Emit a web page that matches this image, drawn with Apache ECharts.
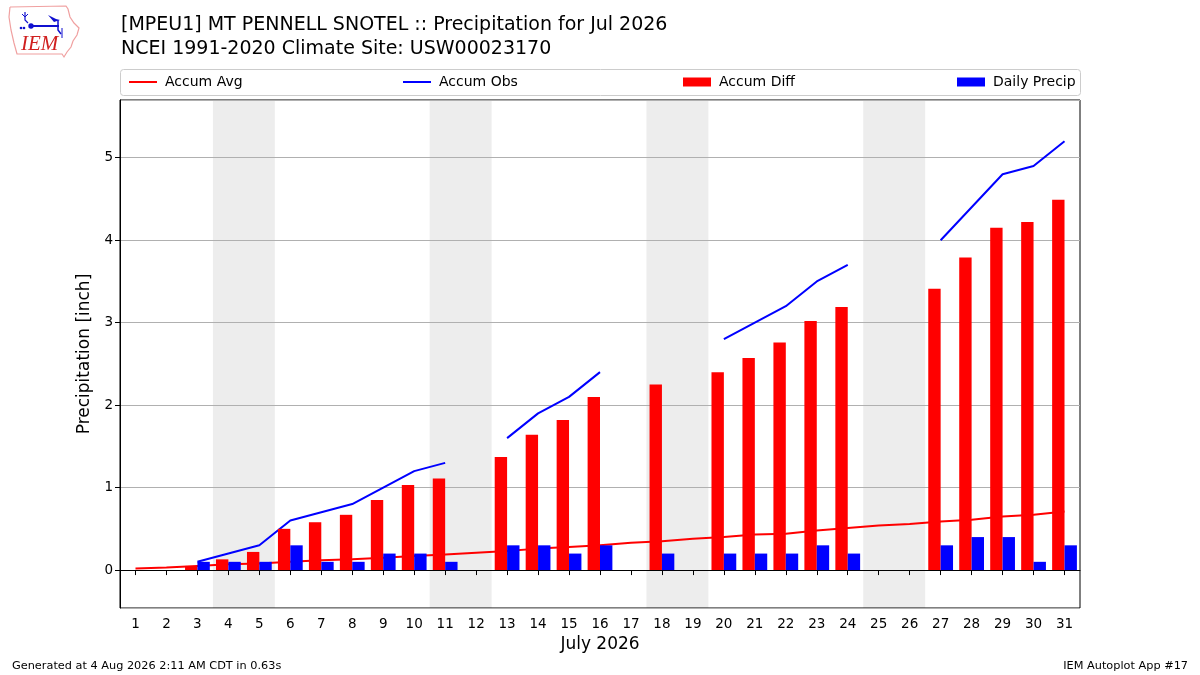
<!DOCTYPE html>
<html>
<head>
<meta charset="utf-8">
<script src="https://cdn.jsdelivr.net/npm/echarts@6/dist/echarts.min.js"></script>
<style>
html,body{margin:0;padding:0;background:#fff;}
#chart{width:1200px;height:675px;}
</style>
</head>
<body>
<div id="chart"></div>
<script>
// ---- data ----
const days = ['1','2','3','4','5','6','7','8','9','10','11','12','13','14','15','16','17','18','19','20','21','22','23','24','25','26','27','28','29','30','31'];
const accumAvg = [0.02,0.03,0.05,0.07,0.08,0.10,0.12,0.13,0.15,0.17,0.19,0.21,0.23,0.26,0.28,0.30,0.33,0.35,0.38,0.40,0.43,0.44,0.48,0.51,0.54,0.56,0.59,0.61,0.65,0.67,0.71];
const accumObs = [null,null,0.1,0.2,0.3,0.6,0.7,0.8,1.0,1.2,1.3,null,1.6,1.9,2.1,2.4,null,2.6,null,2.8,3.0,3.2,3.5,3.7,null,null,4.0,4.4,4.8,4.9,5.2];
const accumDiff = [null,null,0.05,0.13,0.22,0.50,0.58,0.67,0.85,1.03,1.11,null,1.37,1.64,1.82,2.10,null,2.25,null,2.40,2.57,2.76,3.02,3.19,null,null,3.41,3.79,4.15,4.22,4.49];
const dailyPrecip = [null,null,0.1,0.1,0.1,0.3,0.1,0.1,0.2,0.2,0.1,null,0.3,0.3,0.2,0.3,null,0.2,null,0.2,0.2,0.2,0.3,0.2,null,null,0.3,0.4,0.4,0.1,0.3];
const weekendStarts = [4, 11, 18, 25];
const titleLines = ['[MPEU1] MT PENNELL SNOTEL :: Precipitation for Jul 2026', 'NCEI 1991-2020 Climate Site: USW00023170'];
const footerLeft = 'Generated at 4 Aug 2026 2:11 AM CDT in 0.63s';
const footerRight = 'IEM Autoplot App #17';

const FONT = 'DejaVu Sans';
const chart = echarts.init(document.getElementById('chart'), null, {renderer: 'canvas'});

const legendCommon = {
  top: 70, icon: 'rect', itemWidth: 28,
  textStyle: {fontFamily: FONT, fontSize: 14, color: '#000', padding: [0,0,0,3]}
};

const option = {
  backgroundColor: '#fff',
  animation: false,
  textStyle: {fontFamily: FONT},
  title: [
    {text: titleLines.join('\n'), left: 116, top: 8,
     textStyle: {fontFamily: FONT, fontSize: 19, fontWeight: 'normal', color: '#000', lineHeight: 24}},
    {text: footerLeft, left: 7, top: 656,
     textStyle: {fontFamily: FONT, fontSize: 11.3, fontWeight: 'normal', color: '#000'}},
    {text: footerRight, right: 7, top: 656,
     textStyle: {fontFamily: FONT, fontSize: 11.3, fontWeight: 'normal', color: '#000'}}
  ],
  legend: [
    Object.assign({data: ['Accum Avg'], left: 124, itemHeight: 2}, legendCommon),
    Object.assign({data: ['Accum Obs'], left: 398, itemHeight: 2}, legendCommon),
    Object.assign({data: ['Accum Diff'], left: 678, itemHeight: 9}, legendCommon),
    Object.assign({data: ['Daily Precip'], left: 952, itemHeight: 9}, legendCommon)
  ],
  graphic: [
    {type: 'rect', left: 120, top: 69, z: 1, shape: {width: 960, height: 26, r: 3},
     style: {fill: '#fff', stroke: '#cccccc', lineWidth: 1}},
    // IEM logo (approximation)
    {type: 'polyline', z: 1, shape: {points: [[10,7],[66,6],[68,9],[70,17],[74,23],[79,28],[77,35],[73,41],[71,47],[67,52],[64,57],[62,54],[17,54],[14,43],[11,30],[9,17],[10,7]]},
     style: {stroke: '#f0a0a0', lineWidth: 1.2, fill: null}},
    {type: 'polyline', z: 1, shape: {points: [[31,26],[59,26]]}, style: {stroke: '#1010d0', lineWidth: 2}},
    {type: 'circle', z: 1, shape: {cx: 31, cy: 26, r: 2.7}, style: {fill: '#1010d0'}},
    {type: 'polyline', z: 1, shape: {points: [[25,12],[25,20],[28,23]]}, style: {stroke: '#1010d0', lineWidth: 1.2}},
    {type: 'polyline', z: 1, shape: {points: [[22,14],[25,17],[28,14]]}, style: {stroke: '#1010d0', lineWidth: 1}},
    {type: 'polygon', z: 1, shape: {points: [[48,15],[56,19],[60,20],[54,22]]}, style: {fill: '#1010d0'}},
    {type: 'polyline', z: 1, shape: {points: [[58,20],[58,30],[61,34]]}, style: {stroke: '#1010d0', lineWidth: 1.5}},
    {type: 'polyline', z: 1, shape: {points: [[62,28],[62,38]]}, style: {stroke: '#1010d0', lineWidth: 1}},
    {type: 'circle', z: 1, shape: {cx: 24, cy: 28, r: 1.3}, style: {fill: '#1010d0'}},
    {type: 'circle', z: 1, shape: {cx: 21, cy: 28, r: 1.3}, style: {fill: '#1010d0'}},
    {type: 'text', z: 1, left: 21, top: 34,
     style: {text: 'IEM', fill: '#d02020', font: 'italic 21px "Liberation Serif", "DejaVu Serif", serif'}}
  ],
  grid: {left: 120, right: 120, top: 100, bottom: 67, show: true, borderColor: '#000', borderWidth: 1, backgroundColor: 'transparent'},
  xAxis: [
    {type: 'category', data: days, boundaryGap: true, z: 1,
     axisLine: {show: true, lineStyle: {color: '#000', width: 1}},
     axisTick: {show: true, alignWithLabel: true, length: 5, lineStyle: {color: '#000'}},
     axisLabel: {fontFamily: FONT, fontSize: 13.5, color: '#000', margin: 9, interval: 0},
     name: 'July 2026', nameLocation: 'middle', nameGap: 28,
     nameTextStyle: {fontFamily: FONT, fontSize: 17, color: '#000'}},
    {type: 'value', min: 0.5, max: 31.5, show: false}
  ],
  yAxis: [
    {type: 'value', min: -0.46, max: 5.7, splitNumber: 6, z: 1,
     axisLine: {show: true, lineStyle: {color: '#000', width: 1}},
     axisTick: {show: true, length: 5, lineStyle: {color: '#000'}},
     axisLabel: {fontFamily: FONT, fontSize: 13.5, color: '#000', margin: 7, showMinLabel: false, showMaxLabel: false,
       formatter: function (v) { return Math.abs(v) < 1e-9 ? '0' : String(v); }},
     splitLine: {show: true, lineStyle: {color: '#b0b0b0', width: 1}},
     name: 'Precipitation [inch]', nameLocation: 'middle', nameGap: 21,
     nameTextStyle: {fontFamily: FONT, fontSize: 17, color: '#000'}}
  ],
  series: [
    {name: 'weekend', type: 'line', xAxisIndex: 1, yAxisIndex: 0, data: [], silent: true, z: 0,
     markArea: {silent: true, z: -1, itemStyle: {color: '#ededed', opacity: 1},
       data: weekendStarts.map(d => [{xAxis: d - 0.5}, {xAxis: d + 1.5}])}},
    {name: 'Accum Avg', type: 'line', data: accumAvg, showSymbol: false, z: 2,
     itemStyle: {color: '#ff0000'}, lineStyle: {color: '#ff0000', width: 2}},
    {name: 'Accum Obs', type: 'line', data: accumObs, showSymbol: false, connectNulls: false, z: 2,
     itemStyle: {color: '#0000ff'}, lineStyle: {color: '#0000ff', width: 2}},
    {name: 'Accum Diff', type: 'bar', data: accumDiff, barWidth: '40%', barGap: '0%', z: 3,
     itemStyle: {color: '#ff0000'}},
    {name: 'Daily Precip', type: 'bar', data: dailyPrecip, barWidth: '40%', barGap: '0%', z: 3,
     itemStyle: {color: '#0000ff'}}
  ]
};
chart.setOption(option);
</script>
</body>
</html>
